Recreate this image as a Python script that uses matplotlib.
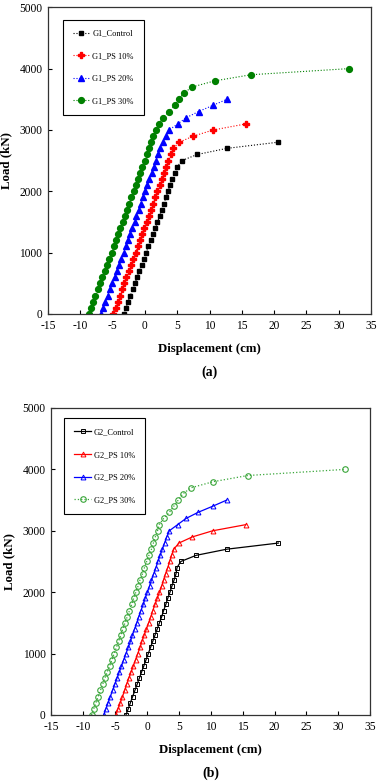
import numpy as np
import matplotlib
matplotlib.use("Agg")
import matplotlib.pyplot as plt

plt.rcParams['font.family'] = ['Liberation Serif', 'DejaVu Serif']
plt.rcParams['axes.unicode_minus'] = False

# Lasten in 100 kN Schritten
load_ctrl = np.arange(0, 2900, 100)
load_10 = np.arange(0, 3200, 100)
load_20 = np.arange(0, 3600, 100)
load_30 = np.arange(0, 4100, 100)

# Verschiebungen (cm) - Teil (a)
disp_ctrl_a = [-3.3, -2.95, -2.6, -2.25, -1.9, -1.55, -1.2, -0.85, -0.5, -0.15,
               0.2, 0.55, 0.9, 1.25, 1.6, 1.95, 2.3, 2.6, 2.95, 3.25,
               3.6, 3.9, 4.25, 4.6, 5.0, 5.7, 8.1, 12.7, 20.6]
disp_10_a = [-4.9, -4.55, -4.2, -3.85, -3.5, -3.2, -2.85, -2.5, -2.15, -1.8,
             -1.45, -1.1, -0.8, -0.45, -0.1, 0.25, 0.6, 0.9, 1.25, 1.6,
             1.95, 2.3, 2.6, 2.9, 3.3, 3.65, 4.0, 4.4, 5.3, 7.5, 10.6, 15.7]
disp_20_a = [-6.8, -6.45, -6.1, -5.75, -5.4, -5.05, -4.7, -4.35, -4.0, -3.65,
             -3.3, -2.95, -2.6, -2.3, -1.95, -1.6, -1.3, -0.95, -0.6, -0.3,
             0.05, 0.4, 0.7, 1.05, 1.4, 1.7, 2.05, 2.4, 2.8, 3.2,
             3.75, 5.1, 6.4, 8.3, 10.5, 12.7]
disp_30_a = [-8.7, -8.35, -8.0, -7.65, -7.3, -6.95, -6.6, -6.25, -5.85, -5.5,
             -5.15, -4.8, -4.45, -4.1, -3.8, -3.45, -3.1, -2.75, -2.4, -2.1,
             -1.75, -1.4, -1.1, -0.7, -0.4, -0.05, 0.3, 0.7, 1.0, 1.3,
             1.75, 2.2, 2.8, 3.8, 4.6, 5.25, 6.0, 7.3, 10.8, 16.4, 31.6]

# Verschiebungen (cm) - Teil (b)
disp_ctrl_b = [-3.3, -2.95, -2.6, -2.25, -1.9, -1.55, -1.2, -0.85, -0.5, -0.15,
               0.2, 0.55, 0.9, 1.25, 1.6, 1.95, 2.3, 2.6, 2.95, 3.25,
               3.6, 3.9, 4.25, 4.55, 4.7, 5.3, 7.7, 12.5, 20.6]
disp_10_b = [-4.9, -4.55, -4.2, -3.85, -3.5, -3.2, -2.85, -2.5, -2.15, -1.8,
             -1.45, -1.1, -0.8, -0.45, -0.1, 0.25, 0.6, 0.9, 1.25, 1.6,
             1.95, 2.3, 2.6, 2.9, 3.25, 3.55, 3.85, 4.2, 5.0, 7.1, 10.3, 15.5]
disp_20_b = [-6.8, -6.45, -6.1, -5.75, -5.4, -5.05, -4.7, -4.35, -4.0, -3.65,
             -3.3, -2.95, -2.6, -2.3, -1.95, -1.6, -1.3, -0.95, -0.6, -0.3,
             0.05, 0.4, 0.7, 1.05, 1.4, 1.7, 2.05, 2.4, 2.75, 3.1,
             3.5, 4.8, 6.1, 8.0, 10.3, 12.5]
disp_30_b = [-8.7, -8.35, -8.0, -7.65, -7.3, -6.95, -6.6, -6.25, -5.85, -5.5,
             -5.15, -4.8, -4.45, -4.1, -3.8, -3.45, -3.1, -2.75, -2.4, -2.1,
             -1.75, -1.4, -1.1, -0.7, -0.4, -0.05, 0.3, 0.7, 1.0, 1.3,
             1.65, 1.9, 2.6, 3.5, 4.2, 4.9, 5.6, 6.9, 10.4, 15.8, 31.1]

labels_a = ['G1_Control', 'G1_PS 10%', 'G1_PS 20%', 'G1_PS 30%']
labels_b = ['G2_Control', 'G2_PS 10%', 'G2_PS 20%', 'G2_PS 30%']

x_ticks = np.arange(-15, 40, 5)
y_ticks = np.arange(0, 6000, 1000)

fig = plt.figure(figsize=(3.79, 7.82), dpi=100)
ax_a = fig.add_axes([0.1266, 0.5985, 0.8524, 0.3922])
ax_b = fig.add_axes([0.1354, 0.0857, 0.8416, 0.3926])

# Teil (a): gefuellte Marker, gepunktete Linien
ax_a.plot(disp_ctrl_a, load_ctrl, ':', color='black', lw=0.8, marker='s', ms=3.2, label=labels_a[0])
ax_a.plot(disp_10_a, load_10, ':', color='red', lw=0.8, marker='P', ms=3.8, label=labels_a[1])
ax_a.plot(disp_20_a, load_20, ':', color='blue', lw=0.8, marker='^', ms=3.8, label=labels_a[2])
ax_a.plot(disp_30_a, load_30, ':', color='green', lw=0.8, marker='o', ms=4.2, label=labels_a[3])

# Teil (b): offene Marker
ax_b.plot(disp_ctrl_b, load_ctrl, '-', color='black', lw=0.9, marker='s', ms=3.2, mfc='none', mew=0.7, label=labels_b[0])
ax_b.plot(disp_10_b, load_10, '-', color='red', lw=0.9, marker='^', ms=3.5, mfc='none', mew=0.7, label=labels_b[1])
ax_b.plot(disp_20_b, load_20, '-', color='blue', lw=0.9, marker='^', ms=3.5, mfc='none', mew=0.7, label=labels_b[2])
ax_b.plot(disp_30_b, load_30, ':', color='#3aa63a', lw=0.9, marker='o', ms=4.0, mfc='none', mew=0.8, label=labels_b[3])

legend_pos = {'(a)': (0.047, 0.960), '(b)': (0.041, 0.966)}

for ax, tag in [(ax_a, '(a)'), (ax_b, '(b)')]:
    ax.set_xlim(-15, 35)
    ax.set_ylim(0, 5000)
    ax.set_xticks(x_ticks)
    ax.set_yticks(y_ticks)
    ax.tick_params(direction='in', labelsize=8.3, length=3, width=0.8, pad=4)
    for sp in ax.spines.values():
        sp.set_color('#333333')
        sp.set_linewidth(0.9)
    ax.set_xlabel('Displacement (cm)', fontsize=9.3, fontweight='bold', labelpad=8)
    ax.set_ylabel('Load (kN)', fontsize=9.3, fontweight='bold', labelpad=5)
    ax.text(0.5, -0.19, tag, transform=ax.transAxes, ha='center', va='center',
            fontsize=10, fontweight='bold')
    leg = ax.legend(loc='upper left', bbox_to_anchor=legend_pos[tag], borderaxespad=0,
                    fontsize=6, labelspacing=1.75, handlelength=2.0, handletextpad=0.3,
                    borderpad=1.2, fancybox=False, framealpha=1)
    leg.get_frame().set_edgecolor('black')
    leg.get_frame().set_linewidth(0.8)

fig.savefig('out.png', dpi=100)
